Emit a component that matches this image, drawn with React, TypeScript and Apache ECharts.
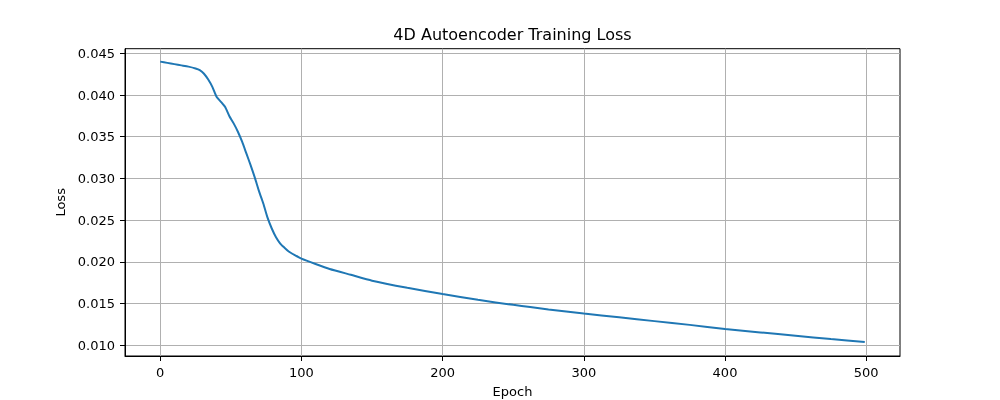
import React, { useEffect, useRef } from "react";
import * as echarts from "echarts";

const epochs = [0, 5, 10, 15, 20, 25, 28, 31, 34, 37, 40, 43, 46, 49, 52, 55, 58, 61, 64, 67, 70, 73, 76, 79, 82, 85, 88, 91, 95, 100, 110, 120, 135, 150, 175, 200, 225, 250, 262, 275, 300, 325, 350, 375, 400, 425, 450, 475, 499];
const loss = [0.044, 0.04385, 0.0437, 0.04355, 0.0434, 0.04318, 0.04298, 0.04255, 0.04185, 0.04095, 0.03975, 0.03918, 0.03855, 0.03745, 0.0366, 0.0356, 0.0344, 0.033, 0.0316, 0.0301, 0.02845, 0.027, 0.0253, 0.024, 0.02295, 0.0222, 0.0217, 0.02125, 0.02085, 0.0204, 0.01975, 0.01915, 0.01845, 0.01775, 0.0169, 0.01615, 0.01545, 0.01485, 0.0146, 0.0143, 0.0138, 0.01335, 0.0129, 0.01245, 0.01195, 0.01155, 0.01115, 0.01075, 0.0104];
const xTicks = [0, 100, 200, 300, 400, 500];
const yTicks = [0.01, 0.015, 0.02, 0.025, 0.03, 0.035, 0.04, 0.045];

export default function App() {
  const ref = useRef<HTMLDivElement>(null);
  useEffect(() => {
    const chart = echarts.init(ref.current!, null, { renderer: "svg" });
    const font = "DejaVu Sans";
    chart.setOption({
      animation: false,
      textStyle: { fontFamily: font },
      graphic: [
        {
          type: "text",
          x: 512.5,
          y: 34,
          style: {
            text: "4D Autoencoder Training Loss",
            fontFamily: font,
            fontSize: 16,
            fill: "#000",
            textAlign: "center",
            textVerticalAlign: "middle",
          },
        },
      ],
      grid: {
        left: 125,
        right: 100,
        top: 48.7,
        bottom: 44,
        containLabel: false,
        outerBoundsMode: "none",
        show: true,
        borderColor: "#000",
        borderWidth: 1,
        backgroundColor: "transparent",
      },
      xAxis: {
        type: "value",
        min: -24.95,
        max: 523.95,
        name: "Epoch",
        nameLocation: "middle",
        nameGap: 29,
        nameTextStyle: { fontFamily: font, fontSize: 13, color: "#000" },
        axisLine: { show: true, onZero: false, lineStyle: { color: "#000", width: 1 } },
        axisTick: { show: true, inside: false, length: 5, customValues: xTicks, lineStyle: { color: "#000" } },
        axisLabel: { customValues: xTicks, margin: 10, fontFamily: font, fontSize: 13, color: "#000" },
        splitLine: { show: true, lineStyle: { color: "#b0b0b0", width: 1 } },
      },
      yAxis: {
        type: "value",
        min: 0.00872,
        max: 0.04555,
        name: "Loss",
        nameLocation: "middle",
        nameGap: 54,
        nameTextStyle: { fontFamily: font, fontSize: 13, color: "#000" },
        axisLine: { show: true, onZero: false, lineStyle: { color: "#000", width: 1 } },
        axisTick: { show: true, inside: false, length: 5, customValues: yTicks, lineStyle: { color: "#000" } },
        axisLabel: {
          customValues: yTicks,
          margin: 10,
          fontFamily: font,
          fontSize: 13,
          color: "#000",
          formatter: (v: number) => v.toFixed(3),
        },
        splitLine: { show: true, lineStyle: { color: "#b0b0b0", width: 1 } },
      },
      series: [
        {
          type: "line",
          data: epochs.map((e, i) => [e, loss[i]]),
          showSymbol: false,
          smooth: 0.2,
          lineStyle: { color: "#1f77b4", width: 2 },
          itemStyle: { color: "#1f77b4" },
        },
      ],
    });
    return () => chart.dispose();
  }, []);
  return <div ref={ref} style={{ position: "fixed", left: 0, top: 0, width: 1000, height: 400 }} />;
}
